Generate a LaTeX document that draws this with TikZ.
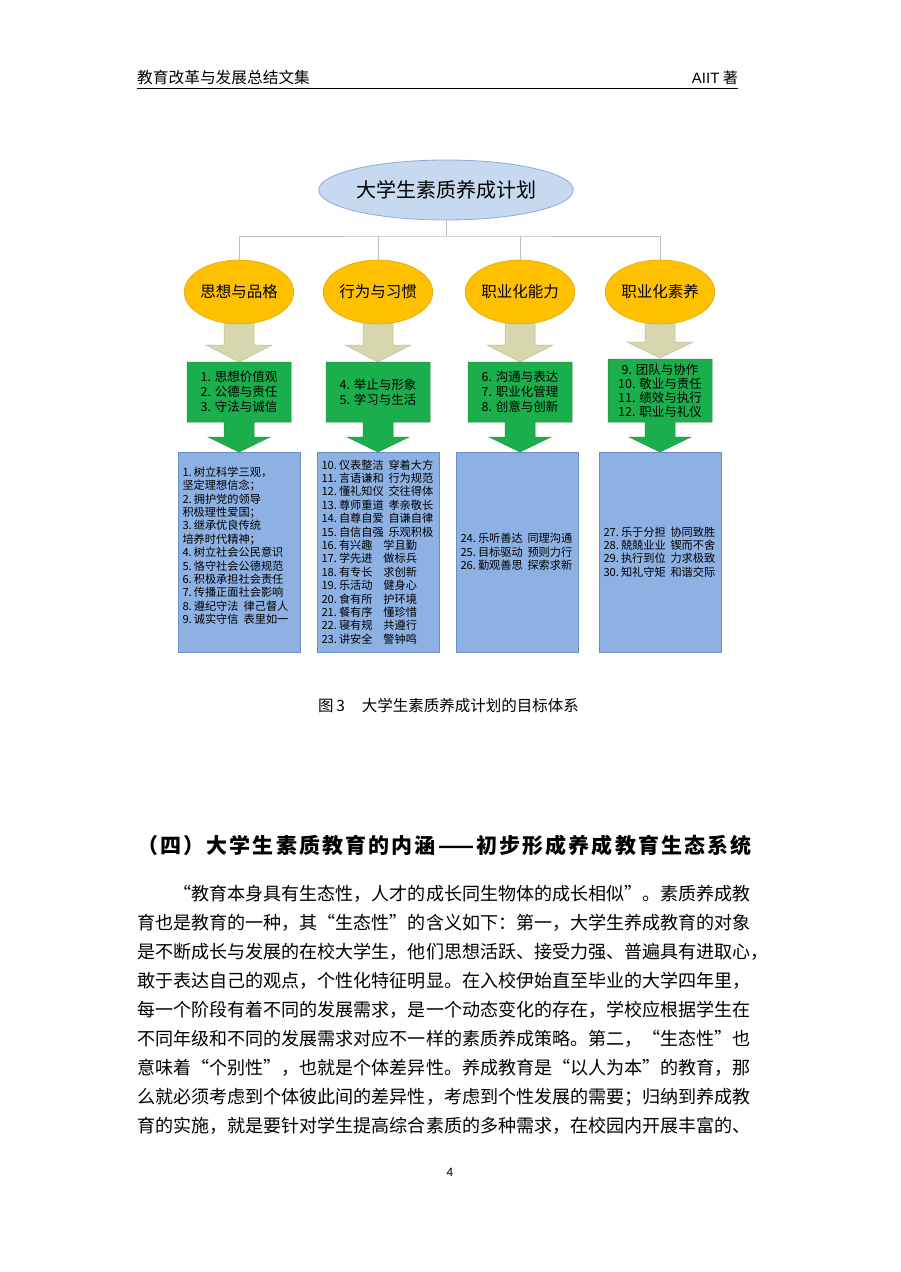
\documentclass[tikz,border=0pt]{standalone}
\usepackage{fontspec}
\setmainfont{Noto Sans CJK SC}
\newfontfamily\latinf{Liberation Sans}
\usetikzlibrary{shapes.geometric}
\definecolor{topfill}{HTML}{C6D9F1}
\definecolor{topdraw}{HTML}{8EAADB}
\definecolor{orfill}{HTML}{FFC000}
\definecolor{ordraw}{HTML}{E3A800}
\definecolor{bgfill}{HTML}{D7D7AF}
\definecolor{bgdraw}{HTML}{BDBD92}
\definecolor{grfill}{HTML}{1AAF4C}
\definecolor{grdraw}{HTML}{2F8F45}
\definecolor{blfill}{HTML}{8DB1E3}
\definecolor{bldraw}{HTML}{6A8FC4}
\definecolor{connc}{HTML}{BFBFBF}
\newcommand\lqq{\makebox[1em][r]{“}}
\newcommand\rqq{\makebox[1em][l]{”}}
\newcommand\nm[1]{#1.\hspace{2pt}}
\newcommand\pairA[2]{\makebox[67pt][l]{#1}#2}
\newcommand\pairB[2]{\makebox[62pt][l]{#1}#2}
\newcommand\beigearrow[3]{%
  \filldraw[fill=bgfill, draw=bgdraw, line width=0.5pt] (#1-15,318) -- (#1+15,318) -- (#1+15,#2) -- (#1+33,#2) -- (#1,#3) -- (#1-33,#2) -- (#1-15,#2) -- cycle;}
\newcommand\greencallout[2]{%
  \filldraw[fill=grfill, draw=grdraw, line width=0.5pt] (#1-52,#2) -- (#1+52,#2) -- (#1+52,422) -- (#1+15,422) -- (#1+15,437) -- (#1+31,437) -- (#1,452) -- (#1-31,437) -- (#1-15,437) -- (#1-15,422) -- (#1-52,422) -- cycle;}
\tikzset{
  connline/.style={draw=connc, line width=0.9pt},
  orb/.style={ellipse, fill=orfill, draw=ordraw, line width=0.6pt, minimum width=92pt, minimum height=64pt, inner sep=0pt, font=\fontsize{15.5}{18}\selectfont},
  gtext/.style={align=center, inner sep=0pt, text=black},
  bluebox/.style={draw=bldraw, fill=blfill, line width=0.6pt, minimum width=122pt, minimum height=200pt, text width=113pt, inner sep=4.5pt, align=left, font=\fontsize{11.2}{13.4}\selectfont},
  para/.style={anchor=base west, inner sep=0pt, font=\fontsize{18.05}{22}\selectfont}
}
\begin{document}
\begin{tikzpicture}[x=1pt, y=-1pt]
\useasboundingbox (0,0) rectangle (900,1272);
\fill[white] (0,0) rectangle (900,1272);
% header
\node[anchor=base west, inner sep=0pt, font=\fontsize{15.7}{18}\selectfont] (hdl) at (137,83) {教育改革与发展总结文集};
\node[anchor=base east, inner sep=0pt, font=\fontsize{15}{18}\selectfont] (hdr) at (738,83) {{\latinf AIIT} 著};
\coordinate (ul1) at (137,88);
\coordinate (ul2) at (738,88);
\draw[line width=0.9pt] (ul1) -- (ul2);
% beige arrows (behind the ellipses)
\beigearrow{239}{345}{362}
\beigearrow{378}{345}{362}
\beigearrow{520}{345}{362}
\beigearrow{660}{342}{358}
% ellipses
\node[orb] (o1) at (239,292) {思想与品格};
\node[orb] (o2) at (378,292) {行为与习惯};
\node[orb] (o3) at (520,292) {职业化能力};
\node[orb] (o4) at (660,292) {职业化素养};
\node[ellipse, fill=topfill, draw=topdraw, line width=0.8pt, minimum width=202pt, minimum height=60pt, inner sep=0pt, font=\fontsize{20}{22}\selectfont] (top) at (446,190) {大学生素质养成计划};
% connectors
\coordinate (j) at (446,236);
\draw[connline] (top.south) -- (j);
\draw[connline] (o1.north) |- (j) -| (o4.north);
\draw[connline] (o2.north) -- (o2.north |- j);
\draw[connline] (o3.north) -- (o3.north |- j);
% green callouts
\greencallout{239}{362}
\greencallout{378}{362}
\greencallout{520}{362}
\greencallout{660}{359}
\node[gtext, font=\fontsize{12.5}{15}\selectfont] (g1) at (239,392) {1. 思想价值观\\2. 公德与责任\\3. 守法与诚信};
\node[gtext, font=\fontsize{12.5}{15}\selectfont] (g2) at (378,392) {4. 举止与形象\\5. 学习与生活};
\node[gtext, font=\fontsize{12.5}{15}\selectfont] (g3) at (520,392) {6. 沟通与表达\\7. 职业化管理\\8. 创意与创新};
\node[gtext, font=\fontsize{12.5}{14}\selectfont] (g4) at (660,390.5) {9. 团队与协作\\10. 敬业与责任\\11. 绩效与执行\\12. 职业与礼仪};
% blue boxes
\node[bluebox] (b1) at (239,552) {\nm{1}树立科学三观，\\坚定理想信念；\\\nm{2}拥护党的领导\\积极理性爱国；\\\nm{3}继承优良传统\\培养时代精神；\\\nm{4}树立社会公民意识\\\nm{5}恪守社会公德规范\\\nm{6}积极承担社会责任\\\nm{7}传播正面社会影响\\\nm{8}遵纪守法\hspace{5pt}律己督人\\\nm{9}诚实守信\hspace{5pt}表里如一\\\mbox{}};
\node[bluebox] (b2) at (378,552) {\pairA{\nm{10}仪表整洁}{穿着大方}\\\pairA{\nm{11}言语谦和}{行为规范}\\\pairA{\nm{12}懂礼知仪}{交往得体}\\\pairA{\nm{13}尊师重道}{孝亲敬长}\\\pairA{\nm{14}自尊自爱}{自谦自律}\\\pairA{\nm{15}自信自强}{乐观积极}\\\pairB{\nm{16}有兴趣}{学且勤}\\\pairB{\nm{17}学先进}{做标兵}\\\pairB{\nm{18}有专长}{求创新}\\\pairB{\nm{19}乐活动}{健身心}\\\pairB{\nm{20}食有所}{护环境}\\\pairB{\nm{21}餐有序}{懂珍惜}\\\pairB{\nm{22}寝有规}{共遵行}\\\pairB{\nm{23}讲安全}{警钟鸣}};
\node[bluebox] (b3) at (517,552) {\pairA{\nm{24}乐听善达}{同理沟通}\\\pairA{\nm{25}目标驱动}{预则力行}\\\pairA{\nm{26}勤观善思}{探索求新}};
\node[bluebox] (b4) at (660,552) {\pairA{\nm{27}乐于分担}{协同致胜}\\\pairA{\nm{28}兢兢业业}{锲而不舍}\\\pairA{\nm{29}执行到位}{力求极致}\\\pairA{\nm{30}知礼守矩}{和谐交际}};
% caption
\node[anchor=base west, inner sep=0pt, font=\fontsize{15.5}{18}\selectfont] (cap) at (318,711.5) {图\,3\hspace{17pt}大学生素质养成计划的目标体系};
% heading
\node[anchor=base west, inner sep=0pt, font=\fontsize{21}{24}\selectfont\bfseries\addfontfeatures{LetterSpace=10.2}] (h4) at (137,853) {（四）大学生素质教育的内涵——初步形成养成教育生态系统};
% paragraph
\node[para] (p1) at (137,900) {\hspace{2em}\lqq 教育本身具有生态性，人才的成长同生物体的成长相似\rqq 。素质养成教};
\node[para] (p2) at (137,929) {育也是教育的一种，其\lqq 生态性\rqq 的含义如下：第一，大学生养成教育的对象};
\node[para] (p3) at (137,958) {是不断成长与发展的在校大学生，他们思想活跃、接受力强、普遍具有进取心，};
\node[para] (p4) at (137,987) {敢于表达自己的观点，个性化特征明显。在入校伊始直至毕业的大学四年里，};
\node[para] (p5) at (137,1016) {每一个阶段有着不同的发展需求，是一个动态变化的存在，学校应根据学生在};
\node[para] (p6) at (137,1045) {不同年级和不同的发展需求对应不一样的素质养成策略。第二，\lqq 生态性\rqq 也};
\node[para] (p7) at (137,1074) {意味着\lqq 个别性\rqq ，也就是个体差异性。养成教育是\lqq 以人为本\rqq 的教育，那};
\node[para] (p8) at (137,1103) {么就必须考虑到个体彼此间的差异性，考虑到个性发展的需要；归纳到养成教};
\node[para] (p9) at (137,1132) {育的实施，就是要针对学生提高综合素质的多种需求，在校园内开展丰富的、};
\node[font=\latinf\fontsize{12}{14}\selectfont, inner sep=0pt] (pg) at (450,1172) {4};
\end{tikzpicture}
\end{document}
